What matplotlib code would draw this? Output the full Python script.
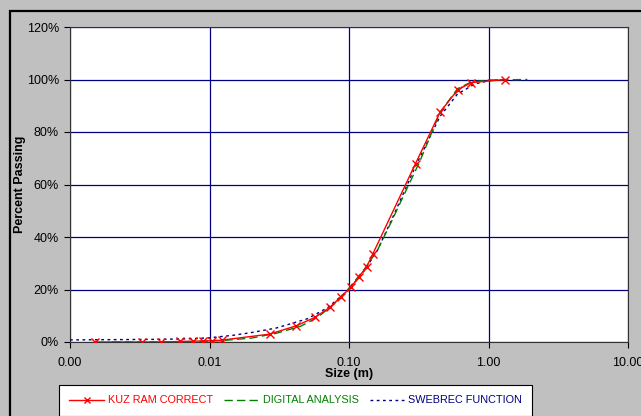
import matplotlib
matplotlib.use("Agg")
import matplotlib.pyplot as plt
from matplotlib.patches import Rectangle
from matplotlib.lines import Line2D

plt.rcParams['font.family'] = ['Liberation Sans', 'DejaVu Sans']

# --- data (size in m, percent passing) ---
kuz_size = [0.0015, 0.0033, 0.0045, 0.0061, 0.0076, 0.0090, 0.0105, 0.0122, 0.027, 0.042,
            0.057, 0.073, 0.087, 0.103, 0.118, 0.134, 0.148, 0.30, 0.45, 0.60, 0.75, 1.32]
kuz_pass = [0, 0, 0, 0.2, 0.3, 0.4, 0.5, 0.7, 3.0, 6.2,
            9.4, 13.2, 17.1, 20.8, 24.9, 28.7, 33.5, 68, 87.6, 96, 98.8, 100]

dig_size = [0.002, 0.003, 0.005, 0.008, 0.012, 0.02, 0.03, 0.045, 0.06, 0.08, 0.10,
            0.13, 0.16, 0.20, 0.25, 0.32, 0.45, 0.6, 0.75, 1.0, 1.9]
dig_pass = [0, 0, 0, 0.2, 0.5, 1.5, 3.3, 6, 9.5, 15, 20.5,
            28, 35, 45.5, 56.5, 68.5, 87.5, 96.5, 99, 99.8, 100]

swe_size = [0.001, 0.002, 0.004, 0.007, 0.01, 0.015, 0.02, 0.03, 0.05, 0.07, 0.1,
            0.13, 0.16, 0.2, 0.3, 0.45, 0.6, 0.8, 1.0, 1.3]
swe_pass = [0.8, 0.9, 1.0, 1.2, 1.6, 2.6, 3.6, 5.3, 8.8, 13, 20,
            27.5, 35, 46, 67, 86, 94.5, 98.3, 99.5, 100]

x_ticks = [0.001, 0.01, 0.1, 1, 10]
x_labels = ["0.00", "0.01", "0.10", "1.00", "10.00"]
y_ticks = [0, 20, 40, 60, 80, 100, 120]
y_labels = ["0%", "20%", "40%", "60%", "80%", "100%", "120%"]

series_labels = ["KUZ RAM CORRECT", "DIGITAL ANALYSIS", "SWEBREC FUNCTION"]
RED, GREEN, NAVY = "#FF0000", "#008000", "#000080"
BG = "#C0C0C0"

W, H = 641, 416
fig = plt.figure(figsize=(W / 100, H / 100), dpi=100, facecolor=BG)

# outer frame
fig.patches.append(Rectangle((9.5 / W, -0.1), 1.0, 1 - 10.5 / H + 0.1, transform=fig.transFigure,
                             fill=False, edgecolor="black", linewidth=1.6))

ax = fig.add_axes([70 / W, (H - 342) / H, 558 / W, 315 / H])
ax.set_facecolor("white")
ax.set_xscale("log")
ax.set_xlim(0.001, 10)
ax.set_ylim(0, 120)

ax.plot(swe_size, swe_pass, color=NAVY, linestyle=(0, (2, 2.5)), linewidth=1.0, zorder=3)
ax.plot(dig_size, dig_pass, color=GREEN, linestyle=(0, (6, 3)), linewidth=1.0, zorder=4)
ax.plot(kuz_size, kuz_pass, color=RED, linewidth=1.0, marker="x", markersize=6,
        markeredgewidth=1.0, zorder=5)

ax.set_xticks(x_ticks)
ax.set_xticklabels(x_labels)
ax.minorticks_off()
ax.set_yticks(y_ticks)
ax.set_yticklabels(y_labels)
ax.tick_params(axis="both", direction="out", length=4, width=0.8, labelsize=9, colors="black")
ax.tick_params(axis="x", pad=7)
ax.tick_params(axis="y", pad=4)
ax.grid(True, color=NAVY, linewidth=0.9)
ax.set_axisbelow(True)
for s in ax.spines.values():
    s.set_color("#333333")
    s.set_linewidth(0.8)

ax.set_xlabel("Size (m)", fontsize=9, fontweight="bold", va="center")
ax.xaxis.set_label_coords(0.5, (342 - 374) / 315)
ax.set_ylabel("Percent Passing", fontsize=9, fontweight="bold", va="center")
ax.yaxis.set_label_coords((20 - 70) / 558, 0.5)

handles = [
    Line2D([], [], color=RED, linewidth=1.0, marker="x", markersize=5, markeredgewidth=1.0),
    Line2D([], [], color=GREEN, linewidth=1.0, linestyle=(0, (6, 3))),
    Line2D([], [], color=NAVY, linewidth=1.0, linestyle=(0, (2, 2.5))),
]
leg = fig.legend(handles, series_labels, ncol=3, loc="upper left",
                 bbox_to_anchor=(59 / W, 1 - 385 / H), fontsize=7.8,
                 labelcolor=[RED, GREEN, NAVY], frameon=True, fancybox=False,
                 edgecolor="black", facecolor="white", framealpha=1,
                 handlelength=3.2, handletextpad=0.38, columnspacing=1.0,
                 borderpad=0.95, borderaxespad=0)
leg.get_frame().set_linewidth(0.8)

fig.savefig("out.png", dpi=100, facecolor=BG)
